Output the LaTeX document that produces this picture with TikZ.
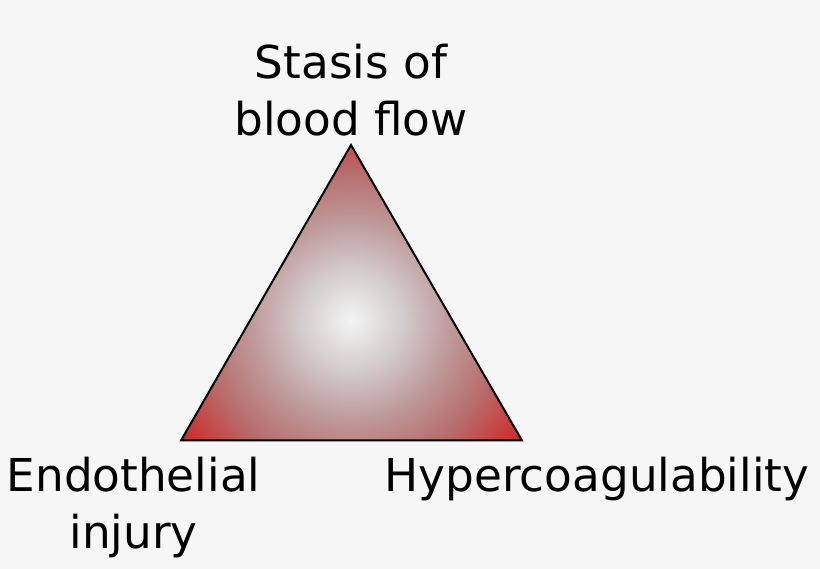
\documentclass[tikz,border=0pt]{standalone}
\usepackage{fontspec}
\setmainfont{DejaVu Sans}
\definecolor{bgc}{RGB}{246,246,246}
\pgfdeclareradialshading{virchow}{\pgfpoint{0bp}{0bp}}{
 rgb(0bp)=(0.955,0.955,0.955);
 rgb(3bp)=(0.89,0.88,0.88);
 rgb(6bp)=(0.83,0.80,0.80);
 rgb(12bp)=(0.75,0.60,0.60);
 rgb(18bp)=(0.72,0.42,0.42);
 rgb(21bp)=(0.77,0.30,0.30);
 rgb(25bp)=(0.80,0.16,0.16);
 rgb(50bp)=(0.80,0.16,0.16)
}
\tikzset{lab/.style={font=\fontsize{45.3pt}{45.3pt}\selectfont,align=center,inner sep=0pt,text=black}}
\begin{document}
\begin{tikzpicture}[x=1pt,y=-1pt]
\useasboundingbox (0,0) rectangle (820,569);
\fill[bgc] (0,0) rectangle (820,569);
\coordinate (T) at (351,145);
\coordinate (L) at (181,440.5);
\coordinate (R) at (522,440.5);
\begin{scope}
\clip (T) -- (L) -- (R) -- cycle;
\node[circle,minimum size=416pt,inner sep=0pt,shading=virchow] at (351,320) {};
\end{scope}
\draw[line width=2pt,line join=miter] (T) -- (L) -- (R) -- cycle;
\node[lab,anchor=base] (a) at (351,79) {Stasis of};
\node[lab,anchor=base] (b) at (351,136) {blood flow};
\node[lab,anchor=base] (c) at (133.5,491) {Endothelial};
\node[lab,anchor=base] (d) at (133.5,548) {injury};
\node[lab,anchor=base] (e) at (597,491) {Hypercoagulability};
\end{tikzpicture}
\end{document}
